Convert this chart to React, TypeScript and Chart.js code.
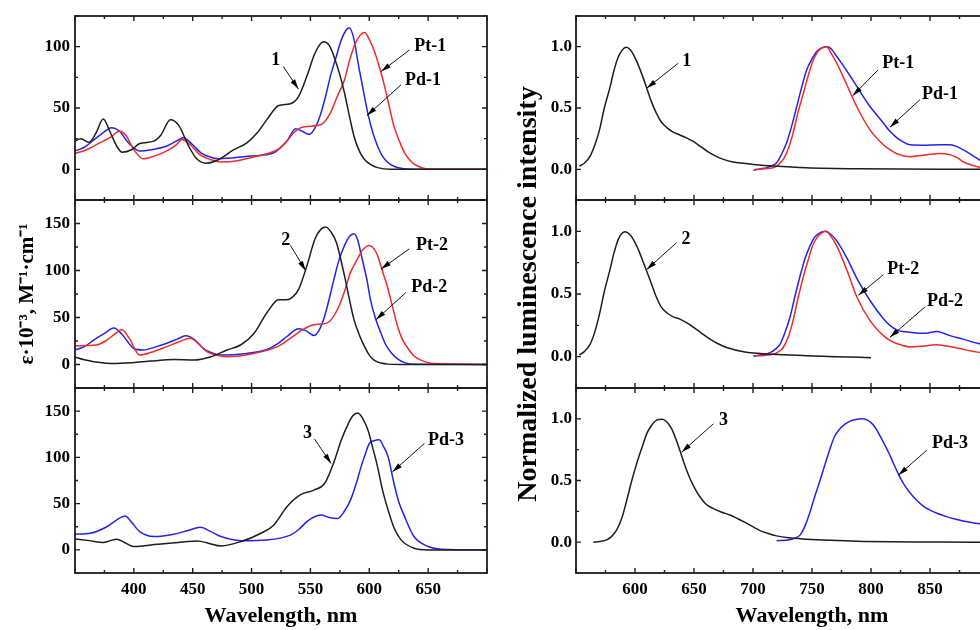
import React, { useEffect, useRef } from 'react';
import { Chart, registerables } from 'chart.js';
Chart.register(...registerables);

const SERIF = '"Liberation Serif", "Times New Roman", Times, serif';
const INK = '#1e1e1e';
const RED = '#ee2b2b';
const BLUE = '#2424e6';

// ---------- Absorption, panel 1 ----------
const abs1BlackWl = [350, 355, 362, 368, 374, 380, 386, 390, 398, 405, 417, 423, 431, 438, 446, 453, 461, 470, 485, 496, 505, 513, 523, 533, 540, 547, 554, 561, 566, 570, 575, 579, 583, 587, 592, 596, 601, 607, 618, 640, 700];
const abs1BlackVal = [23, 25, 22, 30, 41, 30, 18, 14, 16, 21, 23, 28, 40.5, 36, 20, 9, 5, 7, 16, 21.6, 30, 40.5, 52, 53.5, 59.5, 76, 95, 104, 101, 92, 77, 62, 44, 27, 14, 8, 4, 1.4, 0, 0, 0];
const abs1PdWl = [350, 358, 366, 374, 381, 388, 395, 405, 415, 428, 436, 442, 450, 457, 465, 471, 485, 499, 519, 530, 537.5, 543, 549, 554, 559, 563, 567, 572, 576, 580, 583, 587, 591, 595, 599, 603, 607, 611, 616, 621, 627, 640, 700];
const abs1PdVal = [15, 18, 24, 30, 34, 31, 22, 15, 16, 19, 23, 25.7, 20, 13.5, 10, 8.6, 9.5, 10.8, 13.5, 23, 33, 31, 28.4, 34, 46, 60, 76, 92, 105, 113, 115.4, 106, 84, 64, 44.6, 30, 19, 11, 5.4, 2.5, 0.8, 0, 0];
const abs1PtWl = [350, 360, 371, 380, 388, 393, 400, 408, 418, 428, 436, 441, 448, 456, 465, 474, 488, 499, 512, 522, 530, 536, 542, 547, 559, 567, 573, 579, 583, 587, 592, 596, 600, 604, 609, 613, 617, 621, 626, 630, 636, 641, 652, 700];
const abs1PtVal = [13, 16, 21.6, 26, 31, 28, 16, 8.6, 11, 15, 20, 24.3, 20, 12, 8, 6, 7, 9.5, 12.5, 16, 23, 30, 34, 35, 36.5, 46, 60, 73, 88, 100, 109, 111.6, 106, 97, 82, 67.6, 51, 35, 22, 13.5, 6, 2.7, 0, 0];

// ---------- Absorption, panel 2 ----------
const abs2BlackWl = [350, 358, 366, 385, 414, 434, 451, 465, 479, 491, 502, 513, 523, 530, 535, 540, 547, 554, 559, 563, 568, 572, 579, 583, 587, 592, 596, 600, 604, 610, 616, 630, 700];
const abs2BlackVal = [8, 5, 3, 1, 3.6, 5.4, 4.7, 8, 15.4, 21, 33, 55, 69, 69, 72, 80, 105, 134, 144, 146.4, 140, 130, 94, 70, 47.7, 30, 19, 10, 4.7, 1.5, 0.4, 0, 0];
const abs2PdWl = [350, 358, 366, 375, 383, 390, 400, 408, 418, 428, 437, 444, 452, 459, 466, 474, 496, 513, 522, 530, 540, 546, 553, 558, 562, 566, 570, 574, 579, 583, 587, 590, 594, 598, 601, 605, 610, 614, 619, 624, 630, 640, 700];
const abs2PdVal = [15.4, 19, 26, 33, 38.8, 32, 17, 15.4, 18.5, 22.6, 27, 30.5, 26, 17, 12.5, 10, 11.8, 16, 22, 29.8, 38, 36, 30.9, 38, 51, 70, 90.8, 110, 126.7, 136, 139, 133, 112, 90, 69, 50, 33, 21, 12, 6, 2, 0.3, 0];
const abs2PtWl = [350, 368, 376, 383, 390, 396, 405, 415, 428, 438, 448, 455, 462, 470, 479, 502, 522, 532, 542, 553, 564, 573, 579, 584, 589, 593, 597, 600, 604, 607, 611, 616, 620, 624, 628, 633, 638, 644, 655, 700];
const abs2PtVal = [20, 20.8, 25, 31.6, 37, 28, 10, 13, 19, 24, 28, 22, 13.6, 10, 8.3, 11.8, 19, 27, 36, 42.4, 44, 58.5, 78, 98, 110, 119.5, 125, 126.7, 123, 116, 100, 80, 60, 40.6, 27, 17, 9, 4.7, 1, 0];

// ---------- Absorption, panel 3 ----------
const abs3BlackWl = [350, 362, 374, 380, 385.5, 392, 400, 420, 442, 454, 464, 474, 491, 508, 519, 530, 542, 553, 562, 570, 576, 582, 586, 590, 594, 599, 603, 607, 611, 616, 621, 627, 638, 650, 700];
const abs3BlackVal = [11.8, 10, 8, 10, 11.5, 8, 3.6, 6, 8.5, 9.7, 7, 4.3, 9, 18, 27, 46.7, 60, 64.6, 71.8, 95, 118, 136, 145, 148, 143, 129, 110, 90, 66, 43, 24, 10.8, 1.8, 0, 0];
const abs3PdWl = [350, 363, 377, 385, 392.6, 398, 405, 417, 434, 446, 456.5, 465, 474, 491, 513, 533, 540, 547, 553, 559, 566, 573, 579, 584, 589, 593, 597, 600, 604, 608.5, 612, 616, 621, 625, 630, 638, 650, 661, 700];
const abs3PdVal = [16.9, 18, 25, 32, 36.6, 30, 19.7, 14.4, 16.9, 21, 24.4, 20, 14.4, 10, 10.8, 16, 22, 30.5, 35.5, 37.7, 35, 34, 42, 53.8, 72, 89.7, 105, 115, 118, 119, 112, 100.5, 71.8, 52, 35.9, 14.4, 3.6, 0.7, 0];

// ---------- Emission, panel 1 ----------
const em1BlackWl = [552.8, 557, 562, 566, 570, 574, 579, 582, 586, 589, 592.4, 596, 601, 606, 610, 614, 618, 622, 627, 632, 638, 644, 649, 655, 661, 668, 675, 683, 692, 705, 717, 745, 788, 893];
const em1BlackVal = [0.027, 0.05, 0.108, 0.2, 0.324, 0.5, 0.676, 0.8, 0.92, 0.97, 0.995, 0.975, 0.89, 0.77, 0.66, 0.55, 0.46, 0.39, 0.34, 0.305, 0.28, 0.255, 0.23, 0.19, 0.149, 0.11, 0.081, 0.06, 0.049, 0.035, 0.027, 0.0135, 0.005, 0];
const em1PdWl = [700.3, 706, 711.6, 716, 720, 724, 728.5, 733, 737, 741, 745.5, 750, 754, 758, 763, 767, 771, 779, 788, 799, 810.5, 816, 822, 828, 833, 844, 858.5, 867, 873, 878, 885, 893];
const em1PdVal = [-0.008, 0.003, 0.0135, 0.03, 0.054, 0.12, 0.216, 0.36, 0.51, 0.66, 0.81, 0.9, 0.96, 0.99, 1.0, 0.975, 0.92, 0.81, 0.676, 0.514, 0.378, 0.31, 0.257, 0.22, 0.2, 0.197, 0.2, 0.2, 0.185, 0.16, 0.12, 0.07];
const em1PtWl = [701.7, 710, 717, 721, 725.7, 730, 734, 738, 742.7, 747, 751, 755, 758, 762.4, 766, 771, 779, 788, 799, 810.5, 816, 822, 833, 844, 858, 867, 873, 878, 885, 893];
const em1PtVal = [0, 0.005, 0.0135, 0.035, 0.081, 0.17, 0.297, 0.46, 0.62, 0.77, 0.89, 0.96, 0.986, 1.0, 0.95, 0.865, 0.7, 0.51, 0.324, 0.2, 0.16, 0.127, 0.103, 0.114, 0.13, 0.12, 0.095, 0.062, 0.035, 0.0135];

// ---------- Emission, panel 2 ----------
const em2BlackWl = [552.8, 557, 562, 566, 570, 574, 578.8, 582, 586, 591.5, 596, 601.4, 606, 610, 614, 618, 622, 627, 632, 638, 644, 649.4, 656, 663.6, 670, 677.7, 692, 717, 745.5, 770, 800];
const em2BlackVal = [0.0135, 0.04, 0.1, 0.2, 0.343, 0.52, 0.695, 0.82, 0.94, 0.997, 0.97, 0.884, 0.78, 0.68, 0.58, 0.478, 0.4, 0.35, 0.32, 0.3, 0.27, 0.235, 0.19, 0.14, 0.105, 0.073, 0.04, 0.019, 0.008, 0.0, -0.008];
const em2PdWl = [700.3, 707, 714.4, 719, 723, 727, 731.4, 735.5, 739.8, 744, 748.3, 752, 755, 761, 766, 771, 779.4, 787.9, 799, 810.5, 816, 821.8, 827, 833, 844, 849, 855.6, 862, 867, 878, 885, 893];
const em2PdVal = [0.005, 0.015, 0.032, 0.06, 0.1, 0.19, 0.316, 0.48, 0.64, 0.78, 0.884, 0.95, 0.978, 1.0, 0.975, 0.924, 0.79, 0.627, 0.45, 0.303, 0.25, 0.214, 0.2, 0.195, 0.186, 0.19, 0.2, 0.185, 0.168, 0.14, 0.12, 0.1];
const em2PtWl = [701.7, 710, 717, 721, 725.7, 730, 734, 738, 742.7, 747, 751, 755, 758, 762, 766, 771, 779.4, 787.9, 799, 810.5, 816, 821.8, 833, 844, 855.6, 862, 867, 878, 885, 893];
const em2PtVal = [0.005, 0.01, 0.019, 0.035, 0.073, 0.16, 0.29, 0.46, 0.64, 0.78, 0.897, 0.96, 0.986, 1.0, 0.96, 0.884, 0.695, 0.478, 0.29, 0.168, 0.13, 0.105, 0.078, 0.084, 0.095, 0.088, 0.081, 0.059, 0.045, 0.032];

// ---------- Emission, panel 3 ----------
const em3BlackWl = [564.7, 570, 576, 580, 584.5, 589, 593, 597, 601.4, 606, 610, 613.5, 617, 620, 623, 627, 631, 634.5, 638, 642, 646.6, 651, 655, 660, 666, 673, 680.5, 686, 692, 699, 706, 713, 720, 730, 745.5, 765, 788, 893];
const em3BlackVal = [0, 0.006, 0.019, 0.045, 0.1, 0.2, 0.34, 0.49, 0.637, 0.77, 0.88, 0.94, 0.98, 0.995, 0.997, 0.975, 0.92, 0.84, 0.745, 0.63, 0.516, 0.43, 0.368, 0.31, 0.274, 0.245, 0.22, 0.195, 0.167, 0.13, 0.094, 0.07, 0.051, 0.035, 0.024, 0.015, 0.008, 0];
const em3PdWl = [720, 731, 736, 740, 744, 748, 752, 756.8, 761, 765, 769, 773.7, 778, 782, 787, 792, 797, 802, 806, 810.5, 815, 819, 823, 827.4, 833, 838.7, 844, 850, 857, 864, 871, 878, 885, 893];
const em3PdVal = [0.011, 0.019, 0.035, 0.059, 0.13, 0.234, 0.36, 0.5, 0.63, 0.75, 0.855, 0.92, 0.957, 0.979, 0.994, 1.0, 0.99, 0.95, 0.89, 0.81, 0.725, 0.64, 0.557, 0.476, 0.4, 0.34, 0.295, 0.26, 0.23, 0.207, 0.188, 0.172, 0.16, 0.148];

// ---------- Arrow labels (data coordinates: text centre, arrow start, arrow tip) ----------
const notesAbs1 = [
  { text: '1', tx: 520.5, ty: 88.6, x0: 527, y0: 83.8, x1: 539.8, y1: 65.4 },
  { text: 'Pt-1', tx: 651.8, ty: 100, x0: 634.2, y0: 97.3, x1: 610, y1: 79.7 },
  { text: 'Pd-1', tx: 645.6, ty: 72.2, x0: 627, y0: 68.9, x1: 598, y1: 43.8 },
];
const notesAbs2 = [
  { text: '2', tx: 529, ty: 132, x0: 533, y0: 126.7, x1: 546, y1: 99.8 },
  { text: 'Pt-2', tx: 653.2, ty: 126.7, x0: 634, y0: 123, x1: 610, y1: 101.6 },
  { text: 'Pd-2', tx: 651, ty: 81.8, x0: 631, y0: 76.5, x1: 605.7, y1: 47.7 },
];
const notesAbs3 = [
  { text: '3', tx: 547.5, ty: 125.6, x0: 553.4, y0: 120, x1: 567.6, y1: 93.3 },
  { text: 'Pd-3', tx: 665.2, ty: 118.4, x0: 646.7, y0: 114.9, x1: 619.7, y1: 84.3 },
];
const notesEm1 = [
  { text: '1', tx: 643.8, ty: 0.884, x0: 636.7, y0: 0.865, x1: 609.9, y1: 0.662 },
  { text: 'Pt-1', tx: 823, ty: 0.865, x0: 806, y0: 0.81, x1: 784.5, y1: 0.6 },
  { text: 'Pd-1', tx: 858.5, ty: 0.608, x0: 841.5, y0: 0.568, x1: 816, y1: 0.343 },
];
const notesEm2 = [
  { text: '2', tx: 643.2, ty: 0.938, x0: 635.3, y0: 0.91, x1: 609.9, y1: 0.695 },
  { text: 'Pt-2', tx: 827.4, ty: 0.695, x0: 810.5, y0: 0.654, x1: 789.3, y1: 0.49 },
  { text: 'Pd-2', tx: 862.7, ty: 0.438, x0: 845.8, y0: 0.397, x1: 816, y1: 0.154 },
];
const notesEm3 = [
  { text: '3', tx: 674.9, ty: 0.987, x0: 666.4, y0: 0.96, x1: 639.5, y1: 0.73 },
  { text: 'Pd-3', tx: 866.9, ty: 0.8, x0: 847.2, y0: 0.745, x1: 823.2, y1: 0.543 },
];

const absXRange = [350, 700];
const emXRange = [550, 950];
const absXLabelMax = 650;
const emXLabelMax = 850;
const absYRange1 = [-25, 125];
const absYRange23 = [-25, 175];
const emYRange = [-0.25, 1.25];
const xTitle = 'Wavelength, nm';
const absYTitle = 'ε·10⁻³, M⁻¹·cm⁻¹';
const emYTitle = 'Normalized luminescence intensity';

type Series = { wl: number[]; val: number[]; color: string };
type Note = { text: string; tx: number; ty: number; x0: number; y0: number; x1: number; y1: number };
type Panel = {
  key: string;
  left: number; top: number; width: number; height: number;
  pad: { top: number; right: number; bottom: number };
  axisWidth: number;
  xr: number[]; xLabelMax: number; yr: number[]; yStep: number; yMajor: number; yDigits: number;
  bottom: boolean; xAxisHeight: number;
  yTitle?: string; yTitleSize?: number; yTitlePad?: number; yTickPad: number;
  series: Series[]; notes: Note[];
};

const absCommon = { left: 0, width: 500, axisWidth: 75, xr: absXRange, xLabelMax: absXLabelMax, yStep: 25, yMajor: 50, yDigits: 0, yTickPad: 5 };
const emCommon = { left: 490, width: 580, axisWidth: 86, xr: emXRange, xLabelMax: emXLabelMax, yStep: 0.25, yMajor: 0.5, yDigits: 1, yTickPad: 4 };

const panels: Panel[] = [
  { ...absCommon, key: 'a1', top: 0, height: 230, pad: { top: 16, right: 13, bottom: 30 }, yr: absYRange1, bottom: false, xAxisHeight: 0,
    series: [{ wl: abs1BlackWl, val: abs1BlackVal, color: INK }, { wl: abs1PtWl, val: abs1PtVal, color: RED }, { wl: abs1PdWl, val: abs1PdVal, color: BLUE }], notes: notesAbs1 },
  { ...absCommon, key: 'a2', top: 0, height: 630, pad: { top: 200, right: 13, bottom: 242 }, yr: absYRange23, bottom: false, xAxisHeight: 0,
    yTitle: absYTitle, yTitleSize: 21, yTitlePad: 15,
    series: [{ wl: abs2BlackWl, val: abs2BlackVal, color: INK }, { wl: abs2PtWl, val: abs2PtVal, color: RED }, { wl: abs2PdWl, val: abs2PdVal, color: BLUE }], notes: notesAbs2 },
  { ...absCommon, key: 'a3', top: 358, height: 272, pad: { top: 30, right: 13, bottom: 0 }, yr: absYRange23, bottom: true, xAxisHeight: 57,
    series: [{ wl: abs3BlackWl, val: abs3BlackVal, color: INK }, { wl: abs3PdWl, val: abs3PdVal, color: BLUE }], notes: notesAbs3 },
  { ...emCommon, key: 'e1', top: 0, height: 230, pad: { top: 16, right: 22, bottom: 30 }, yr: emYRange, bottom: false, xAxisHeight: 0,
    series: [{ wl: em1BlackWl, val: em1BlackVal, color: INK }, { wl: em1PtWl, val: em1PtVal, color: RED }, { wl: em1PdWl, val: em1PdVal, color: BLUE }], notes: notesEm1 },
  { ...emCommon, key: 'e2', top: 0, height: 630, pad: { top: 200, right: 22, bottom: 242 }, yr: emYRange, bottom: false, xAxisHeight: 0,
    yTitle: emYTitle, yTitleSize: 28, yTitlePad: 22,
    series: [{ wl: em2BlackWl, val: em2BlackVal, color: INK }, { wl: em2PtWl, val: em2PtVal, color: RED }, { wl: em2PdWl, val: em2PdVal, color: BLUE }], notes: notesEm2 },
  { ...emCommon, key: 'e3', top: 358, height: 272, pad: { top: 30, right: 22, bottom: 0 }, yr: emYRange, bottom: true, xAxisHeight: 57,
    series: [{ wl: em3BlackWl, val: em3BlackVal, color: INK }, { wl: em3PdWl, val: em3PdVal, color: BLUE }], notes: notesEm3 },
];

const isMult = (v: number, m: number) => Math.abs(v / m - Math.round(v / m)) < 1e-6;

function framePlugin(p: Panel) {
  return {
    id: 'frame_' + p.key,
    afterDatasetsDraw(chart: any) {
      const { ctx, chartArea: a, scales } = chart;
      const xs = scales.x;
      const ys = scales.y;
      ctx.save();
      ctx.strokeStyle = INK;
      ctx.lineWidth = 1.8;
      ctx.strokeRect(a.left, a.top, a.right - a.left, a.bottom - a.top);
      ctx.lineWidth = 1.4;
      ctx.beginPath();
      for (let v = p.xr[0]; v <= p.xr[1] + 1e-9; v += 25) {
        const px = xs.getPixelForValue(v);
        const len = isMult(v, 50) ? 5 : 3;
        ctx.moveTo(px, a.top); ctx.lineTo(px, a.top + len);
        ctx.moveTo(px, a.bottom); ctx.lineTo(px, a.bottom - len);
      }
      for (let i = 0; ; i++) {
        const v = p.yr[0] + i * p.yStep;
        if (v > p.yr[1] + 1e-9) break;
        const py = ys.getPixelForValue(v);
        const len = isMult(v, p.yMajor) ? 5 : 3;
        ctx.moveTo(a.left, py); ctx.lineTo(a.left + len, py);
        ctx.moveTo(a.right, py); ctx.lineTo(a.right - len, py);
      }
      ctx.stroke();

      // arrow labels
      ctx.fillStyle = '#000';
      ctx.strokeStyle = '#111';
      ctx.font = `bold 18px ${SERIF}`;
      ctx.textAlign = 'center';
      ctx.textBaseline = 'middle';
      for (const n of p.notes) {
        ctx.fillText(n.text, xs.getPixelForValue(n.tx), ys.getPixelForValue(n.ty));
        const X0 = xs.getPixelForValue(n.x0), Y0 = ys.getPixelForValue(n.y0);
        const X1 = xs.getPixelForValue(n.x1), Y1 = ys.getPixelForValue(n.y1);
        ctx.lineWidth = 1;
        ctx.beginPath();
        ctx.moveTo(X0, Y0);
        ctx.lineTo(X1, Y1);
        ctx.stroke();
        const ang = Math.atan2(Y1 - Y0, X1 - X0);
        const L = 10, W = 2.6;
        const bx = X1 - L * Math.cos(ang), by = Y1 - L * Math.sin(ang);
        ctx.beginPath();
        ctx.moveTo(X1, Y1);
        ctx.lineTo(bx + W * Math.sin(ang), by - W * Math.cos(ang));
        ctx.lineTo(bx - W * Math.sin(ang), by + W * Math.cos(ang));
        ctx.closePath();
        ctx.fill();
      }
      ctx.restore();
    },
  };
}

function PanelChart({ p }: { p: Panel }) {
  const ref = useRef<HTMLCanvasElement | null>(null);
  useEffect(() => {
    if (!ref.current) return;
    const tickFont = { family: SERIF, size: 17, weight: 'bold' as const };
    const chart = new Chart(ref.current, {
      type: 'line',
      data: {
        datasets: p.series.map((s) => ({
          data: s.wl.map((x, i) => ({ x, y: s.val[i] })),
          borderColor: s.color,
          borderWidth: 1.5,
          pointRadius: 0,
          fill: false,
          cubicInterpolationMode: 'monotone' as const,
        })),
      },
      options: {
        responsive: false,
        animation: false,
        devicePixelRatio: 1,
        layout: { padding: { left: 0, top: p.pad.top, right: p.pad.right, bottom: p.pad.bottom } },
        plugins: { legend: { display: false }, tooltip: { enabled: false } },
        events: [],
        scales: {
          x: {
            type: 'linear',
            min: p.xr[0],
            max: p.xr[1],
            display: p.bottom,
            afterFit: (s: any) => { if (p.bottom) s.height = p.xAxisHeight; },
            ticks: {
              stepSize: 25,
              autoSkip: false,
              maxRotation: 0,
              minRotation: 0,
              padding: 6,
              color: '#000',
              font: tickFont,
              callback: (v: any) => (isMult(v, 50) && v > p.xr[0] && v <= p.xLabelMax ? String(v) : ''),
            },
            grid: { display: false, drawTicks: false },
            border: { display: false },
            title: {
              display: p.bottom,
              text: xTitle,
              color: '#000',
              font: { family: SERIF, size: 22, weight: 'bold' },
              padding: { top: 0, bottom: 0 },
            },
          },
          y: {
            type: 'linear',
            min: p.yr[0],
            max: p.yr[1],
            afterFit: (s: any) => { s.width = p.axisWidth; },
            ticks: {
              stepSize: p.yStep,
              autoSkip: false,
              padding: p.yTickPad,
              color: '#000',
              font: tickFont,
              callback: (v: any) => (isMult(v, p.yMajor) && v >= 0 && v < p.yr[1] - 1e-9 ? Number(v).toFixed(p.yDigits) : ''),
            },
            grid: { display: false, drawTicks: false },
            border: { display: false },
            title: {
              display: !!p.yTitle,
              text: p.yTitle || '',
              color: '#000',
              font: { family: SERIF, size: p.yTitleSize || 20, weight: 'bold' },
              padding: { top: p.yTitlePad || 0, bottom: 0 },
            },
          },
        },
      },
      plugins: [framePlugin(p)],
    } as any);
    return () => chart.destroy();
  }, [p]);
  return (
    <canvas
      ref={ref}
      width={p.width}
      height={p.height}
      style={{ position: 'absolute', left: p.left, top: p.top, width: p.width, height: p.height }}
    />
  );
}

export default function App() {
  return (
    <div style={{ position: 'fixed', left: 0, top: 0, width: 980, height: 630, overflow: 'hidden', background: '#fff' }}>
      {panels.map((p) => (
        <PanelChart key={p.key} p={p} />
      ))}
    </div>
  );
}
